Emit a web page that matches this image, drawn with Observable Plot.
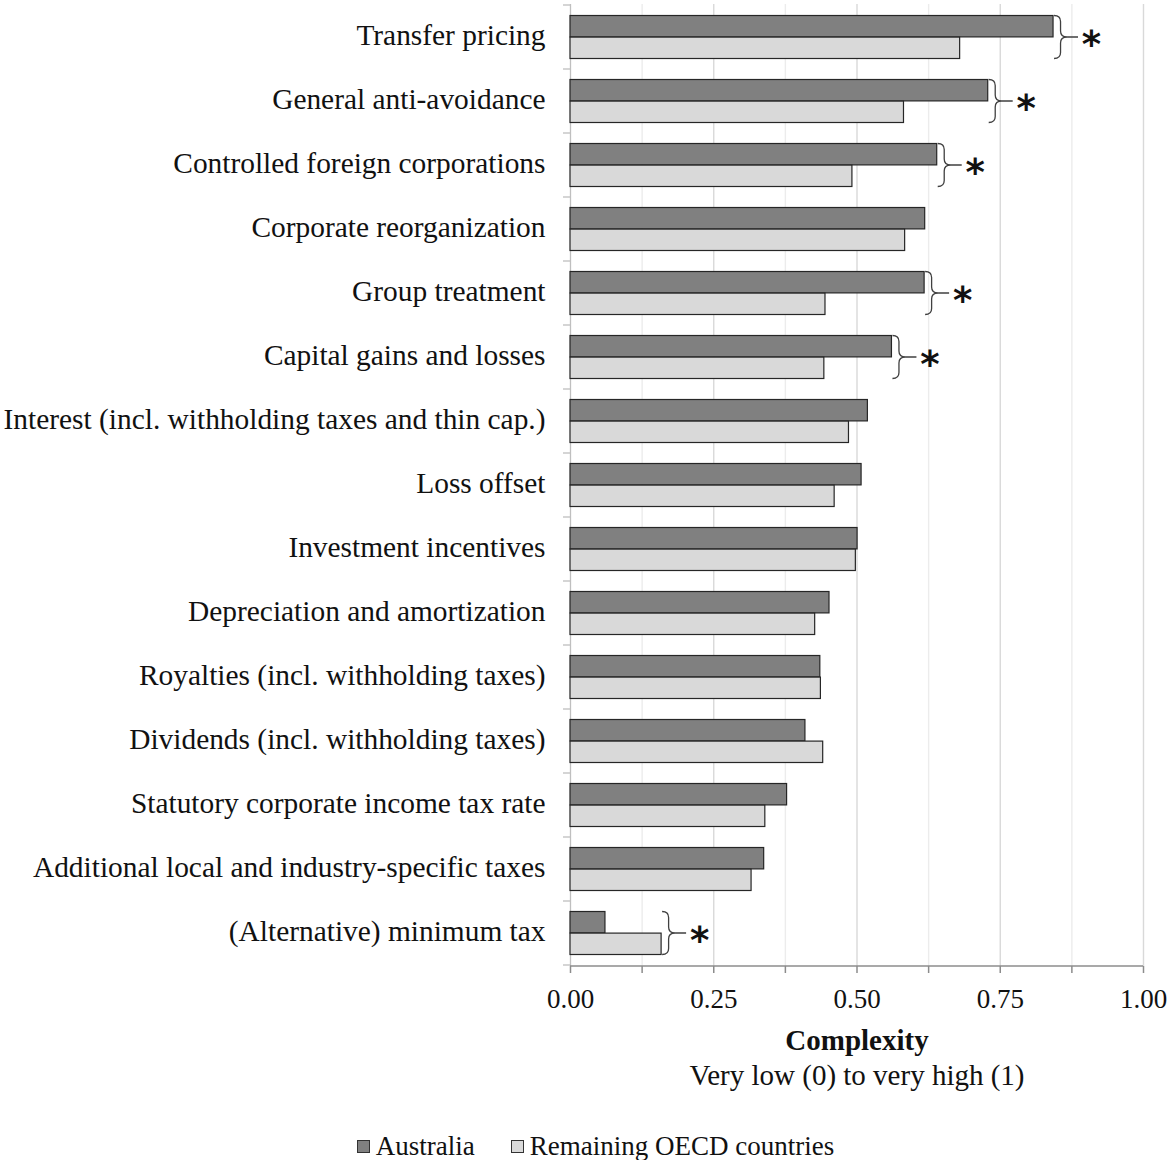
<!DOCTYPE html>
<html>
<head>
<meta charset="utf-8">
<script src="https://cdn.jsdelivr.net/npm/d3@7"></script>
<script src="https://cdn.jsdelivr.net/npm/@observablehq/plot@0.6"></script>
<style>
  html, body { margin: 0; padding: 0; background: #fff; }
  body { width: 1169px; font-family: "Liberation Serif", "Times New Roman", serif; }
  #legend { display: flex; justify-content: center; align-items: center; gap: 36px; margin-top: 27px; padding-left: 22px; font-size: 27px; line-height: 28px; color: #111; }
  .item { display: flex; align-items: center; gap: 6px; }
  .sw { width: 13px; height: 13px; border: 1px solid #333; box-sizing: border-box; }
</style>
</head>
<body>
<div id="chart"></div>
<div id="legend"></div>
<script>
const categories = [
  "Transfer pricing",
  "General anti-avoidance",
  "Controlled foreign corporations",
  "Corporate reorganization",
  "Group treatment",
  "Capital gains and losses",
  "Interest (incl. withholding taxes and thin cap.)",
  "Loss offset",
  "Investment incentives",
  "Depreciation and amortization",
  "Royalties (incl. withholding taxes)",
  "Dividends (incl. withholding taxes)",
  "Statutory corporate income tax rate",
  "Additional local and industry-specific taxes",
  "(Alternative) minimum tax"
];
const australia = [0.843, 0.729, 0.640, 0.619, 0.618, 0.561, 0.519, 0.508, 0.501, 0.452, 0.436, 0.410, 0.378, 0.338, 0.061];
const remainingOECD = [0.680, 0.582, 0.492, 0.584, 0.445, 0.443, 0.486, 0.461, 0.498, 0.427, 0.437, 0.441, 0.340, 0.316, 0.159];
const significant = [true, true, true, false, true, true, false, false, false, false, false, false, false, false, true];
const seriesNames = ["Australia", "Remaining OECD countries"];
const seriesColors = ["#808080", "#d9d9d9"];
const xTicks = [0, 0.125, 0.25, 0.375, 0.5, 0.625, 0.75, 0.875, 1];
const xLabelTicks = [0, 0.25, 0.5, 0.75, 1];
const axisTitle = "Complexity";
const axisSubtitle = "Very low (0) to very high (1)";

const rows = categories.map((c, i) => ({category: c, au: australia[i], oecd: remainingOECD[i], sig: significant[i], max: Math.max(australia[i], remainingOECD[i])}));
const sigRows = rows.filter(d => d.sig);

const FONT = "Liberation Serif, Times New Roman, serif";

// custom mark: category boundary ticks and bottom axis line
function axisDecor(index, scales, values, dimensions) {
  const g = d3.create("svg:g");
  const x0 = scales.x(0);
  const bw = scales.y.bandwidth ? scales.y.bandwidth() : 0;
  const bounds = categories.map(c => scales.y(c));
  bounds.push(scales.y(categories[categories.length - 1]) + bw);
  for (const b of bounds) {
    g.append("line").attr("x1", x0 - 7).attr("x2", x0).attr("y1", b).attr("y2", b)
      .attr("stroke", "#bfbfbf").attr("stroke-width", 1.3);
  }
  const yb = dimensions.height - dimensions.marginBottom;
  g.append("line").attr("x1", scales.x(0)).attr("x2", scales.x(1)).attr("y1", yb).attr("y2", yb)
    .attr("stroke", "#8c8c8c").attr("stroke-width", 1.5);
  return g.node();
}

// custom mark: curly braces next to significant pairs
function braces(index, scales, values, dimensions) {
  const g = d3.create("svg:g");
  const bw = scales.y.bandwidth();
  for (const d of sigRows) {
    const xs = scales.x(d.max) + 1;
    const top = scales.y(d.category) + 10.5;
    const bot = scales.y(d.category) + bw - 10.5;
    const mid = (top + bot) / 2;
    const w = 13, xm = xs + w / 2, xt = xs + w, q = 6;
    const p = `M${xs},${top} Q${xm},${top} ${xm},${top + q} L${xm},${mid - q} Q${xm},${mid} ${xt},${mid} ` +
              `Q${xm},${mid} ${xm},${mid + q} L${xm},${bot - q} Q${xm},${bot} ${xs},${bot} ` +
              `M${xt},${mid} L${xt + 11},${mid}`;
    g.append("path").attr("d", p).attr("fill", "none").attr("stroke", "#404040").attr("stroke-width", 1.3);
  }
  return g.node();
}

const chart = Plot.plot({
  width: 1169,
  height: 1105,
  marginLeft: 570,
  marginRight: 26,
  marginTop: 4,
  marginBottom: 139,
  style: {fontFamily: FONT, color: "#111", background: "#fff"},
  x: {domain: [0, 1]},
  y: {domain: categories, padding: 0},
  marks: [
    Plot.gridX(xTicks.filter(t => !xLabelTicks.includes(t)), {stroke: "#ececec", strokeOpacity: 1, strokeWidth: 1.4}),
    Plot.gridX(xLabelTicks.filter(t => t > 0), {stroke: "#d9d9d9", strokeOpacity: 1, strokeWidth: 1.4}),
    Plot.ruleX([0], {stroke: "#bfbfbf", strokeWidth: 1.3}),
    Plot.barX(rows, {y: "category", x: "au", fill: seriesColors[0], stroke: "#262626", strokeWidth: 1.2, insetTop: 10.5, insetBottom: 32.1}),
    Plot.barX(rows, {y: "category", x: "oecd", fill: seriesColors[1], stroke: "#262626", strokeWidth: 1.2, insetTop: 32.1, insetBottom: 10.5}),
    axisDecor,
    braces,
    Plot.text(sigRows, {x: "max", y: "category", text: () => "*", dx: 38, dy: 8, fontSize: 37, fontWeight: "bold", fontFamily: "DejaVu Sans", fill: "#111"}),
    Plot.axisY({tickSize: 0, tickPadding: 25, fontSize: 29.4, dy: -2, label: null, fill: "#111"}),
    Plot.axisX({ticks: xTicks, tickSize: 7, tickPadding: 15, stroke: "#8c8c8c", strokeWidth: 1.5,
      tickFormat: t => xLabelTicks.includes(t) ? t.toFixed(2) : "", fontSize: 27, label: null, fill: "#111"}),
    Plot.text([axisTitle], {frameAnchor: "bottom", dy: 83, fontSize: 29, fontWeight: "bold", fill: "#111"}),
    Plot.text([axisSubtitle], {frameAnchor: "bottom", dy: 118, fontSize: 29, fill: "#111"})
  ]
});
document.getElementById("chart").appendChild(chart);

const legend = document.getElementById("legend");
seriesNames.forEach((name, i) => {
  const item = document.createElement("div");
  item.className = "item";
  const sw = document.createElement("div");
  sw.className = "sw";
  sw.style.background = seriesColors[i];
  const label = document.createElement("span");
  label.textContent = name;
  item.appendChild(sw);
  item.appendChild(label);
  legend.appendChild(item);
});
</script>
</body>
</html>
